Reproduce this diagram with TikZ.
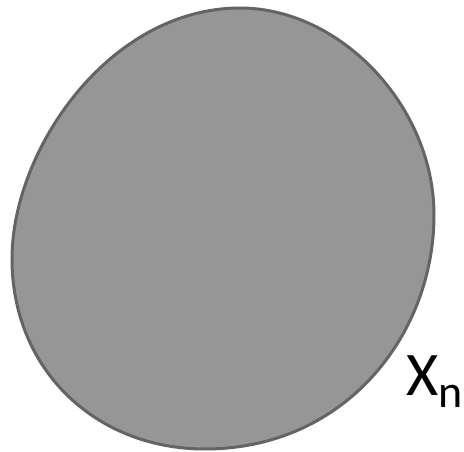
\documentclass[tikz,border=0pt]{standalone}
\usepackage{fontspec}
\setmainfont{Carlito}
\definecolor{blobfill}{HTML}{969696}
\definecolor{blobline}{HTML}{646464}

\begin{document}
\begin{tikzpicture}[
    x=1pt,y=-1pt,
    blob/.style={draw=blobline,fill=blobfill,line width=3pt},
    setlabel/.style={inner sep=0pt,anchor=base west,font=\fontsize{62}{62}\selectfont}
]
\useasboundingbox (0,0) rectangle (464,452);

% the set
\draw[blob] (240,8) .. controls (341,8) and (434,107) .. (434,215)
    .. controls (434,335) and (345,449) .. (205,449)
    .. controls (95,449) and (12,369) .. (12,259)
    .. controls (12,149) and (110,8) .. (240,8) -- cycle;

\node[setlabel] (xn) at (406,395) {X\raisebox{-12pt}{\fontsize{46}{46}\selectfont n}};

\end{tikzpicture}
\end{document}
